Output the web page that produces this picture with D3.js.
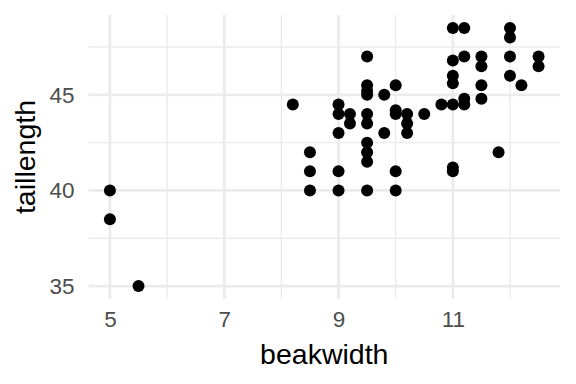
<!DOCTYPE html>
<html>
<head>
<meta charset="utf-8">
<script src="https://cdn.jsdelivr.net/npm/d3@7"></script>
<style>
  body { margin: 0; background: #fff; }
  svg { display: block; font-family: 'Liberation Sans', Arial, sans-serif; }
</style>
</head>
<body>
<div id="chart"></div>
<script>
// data
const beakwidth = [
  5, 5, 5.5,
  8.2,
  8.5, 8.5, 8.5,
  9, 9, 9, 9, 9,
  9.2, 9.2,
  9.5, 9.5, 9.5, 9.5, 9.5, 9.5, 9.5, 9.5, 9.5, 9.5,
  9.8, 9.8,
  10, 10, 10, 10, 10,
  10.2, 10.2, 10.2,
  10.5,
  10.8,
  11, 11, 11, 11, 11, 11, 11,
  11.2, 11.2, 11.2, 11.2,
  11.5, 11.5, 11.5, 11.5,
  11.8,
  12, 12, 12, 12,
  12.2,
  12.5, 12.5,
];
const taillength = [
  40, 38.5, 35,
  44.5,
  42, 41, 40,
  44.5, 44, 43, 41, 40,
  44, 43.5,
  47, 45.5, 45.2, 45, 44, 43.5, 42.5, 42, 41.5, 40,
  45, 43,
  45.5, 44.2, 44, 41, 40,
  44, 43.5, 43,
  44,
  44.5,
  48.5, 46.8, 46, 45.6, 44.5, 41.2, 41,
  48.5, 47, 44.8, 44.5,
  47, 46.5, 45.5, 44.8,
  42,
  48.5, 48, 47, 46,
  45.5,
  47, 46.5,
];
const xTicks = [5, 7, 9, 11];
const xMinor = [6, 8, 10, 12];
const yTicks = [35, 40, 45];
const yMinor = [37.5, 42.5, 47.5];

const width = 576;
const height = 384;
const margin = { top: 15, right: 16, bottom: 85, left: 88.5 };

const points = beakwidth.map((d, i) => ({ x: d, y: taillength[i] }));

// ggplot-style 5% expansion
const xExt = d3.extent(beakwidth);
const yExt = d3.extent(taillength);
const xPad = (xExt[1] - xExt[0]) * 0.05;
const yPad = (yExt[1] - yExt[0]) * 0.05;

const x = d3.scaleLinear()
  .domain([xExt[0] - xPad, xExt[1] + xPad])
  .range([margin.left, width - margin.right]);

const y = d3.scaleLinear()
  .domain([yExt[0] - yPad, yExt[1] + yPad])
  .range([height - margin.bottom, margin.top]);

const svg = d3.select('#chart')
  .append('svg')
  .attr('width', width)
  .attr('height', height);

const grid = svg.append('g');

grid.selectAll('.minor-x')
  .data(xMinor)
  .join('line')
  .attr('x1', (d) => x(d))
  .attr('x2', (d) => x(d))
  .attr('y1', y.range()[0])
  .attr('y2', y.range()[1])
  .attr('stroke', '#ebebeb')
  .attr('stroke-width', 1.4);

grid.selectAll('.minor-y')
  .data(yMinor)
  .join('line')
  .attr('x1', x.range()[0])
  .attr('x2', x.range()[1])
  .attr('y1', (d) => y(d))
  .attr('y2', (d) => y(d))
  .attr('stroke', '#ebebeb')
  .attr('stroke-width', 1.4);

grid.selectAll('.major-x')
  .data(xTicks)
  .join('line')
  .attr('x1', (d) => x(d))
  .attr('x2', (d) => x(d))
  .attr('y1', y.range()[0])
  .attr('y2', y.range()[1])
  .attr('stroke', '#ebebeb')
  .attr('stroke-width', 2.8);

grid.selectAll('.major-y')
  .data(yTicks)
  .join('line')
  .attr('x1', x.range()[0])
  .attr('x2', x.range()[1])
  .attr('y1', (d) => y(d))
  .attr('y2', (d) => y(d))
  .attr('stroke', '#ebebeb')
  .attr('stroke-width', 2.8);

// axes: labels only, theme_minimal has no lines or ticks
svg.append('g')
  .attr('transform', `translate(0,${y.range()[0]})`)
  .call(d3.axisBottom(x).tickValues(xTicks).tickSize(0).tickPadding(12))
  .call((g) => g.select('.domain').remove())
  .call((g) => g.selectAll('text')
    .attr('fill', '#4d4d4d')
    .style('font-size', '22.5px')
    .style('font-family', "'Liberation Sans', Arial, sans-serif"));

svg.append('g')
  .attr('transform', `translate(${x.range()[0]},0)`)
  .call(d3.axisLeft(y).tickValues(yTicks).tickSize(0).tickPadding(14))
  .call((g) => g.select('.domain').remove())
  .call((g) => g.selectAll('text')
    .attr('fill', '#4d4d4d')
    .style('font-size', '22.5px')
    .style('font-family', "'Liberation Sans', Arial, sans-serif"));

svg.append('text')
  .attr('x', (x.range()[0] + x.range()[1]) / 2)
  .attr('y', 364)
  .attr('text-anchor', 'middle')
  .attr('fill', '#000')
  .style('font-size', '28.5px')
  .text('beakwidth');

svg.append('text')
  .attr('transform', `translate(35,${(y.range()[0] + y.range()[1]) / 2}) rotate(-90)`)
  .attr('text-anchor', 'middle')
  .attr('fill', '#000')
  .style('font-size', '28.5px')
  .text('taillength');

svg.append('g')
  .selectAll('circle')
  .data(points)
  .join('circle')
  .attr('cx', (d) => x(d.x))
  .attr('cy', (d) => y(d.y))
  .attr('r', 6)
  .attr('fill', '#000');
</script>
</body>
</html>
